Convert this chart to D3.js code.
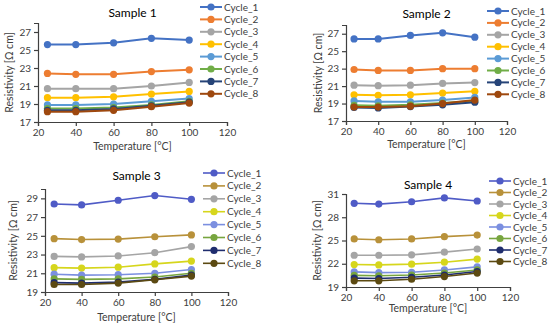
<!DOCTYPE html>
<html>
<head>
<meta charset="utf-8">
<script src="https://cdn.jsdelivr.net/npm/d3@7"></script>
<style>
  body { margin: 0; background: #fff; }
  svg text { font-family: Lato, "Open Sans", sans-serif; fill: #404040; }
</style>
</head>
<body>
<svg id="canvas" width="550" height="324"></svg>
<script>
'use strict';

// temperatures shared by all samples
const temperatures = [25, 40, 60, 80, 100];
const cycles = ['Cycle_1', 'Cycle_2', 'Cycle_3', 'Cycle_4', 'Cycle_5', 'Cycle_6', 'Cycle_7', 'Cycle_8'];
const xTicks = [20, 40, 60, 80, 100, 120];

// resistivity values, one row per cycle
const sample1 = [
  [25.6, 25.6, 25.8, 26.3, 26.1],
  [22.4, 22.3, 22.3, 22.6, 22.8],
  [20.7, 20.7, 20.7, 21.0, 21.4],
  [19.7, 19.7, 19.8, 20.1, 20.4],
  [18.9, 18.9, 19.0, 19.3, 19.6],
  [18.5, 18.5, 18.6, 18.9, 19.3],
  [18.3, 18.3, 18.45, 18.8, 19.2],
  [18.15, 18.15, 18.3, 18.7, 19.1]
];
const sample2 = [
  [26.4, 26.4, 26.8, 27.1, 26.6],
  [22.9, 22.8, 22.8, 23.0, 23.0],
  [21.1, 21.05, 21.1, 21.3, 21.4],
  [20.0, 19.95, 20.0, 20.2, 20.4],
  [19.3, 19.2, 19.2, 19.4, 19.7],
  [18.8, 18.75, 18.85, 19.05, 19.3],
  [18.55, 18.5, 18.65, 18.85, 19.15],
  [18.6, 18.6, 18.7, 19.0, 19.4]
];
const sample3 = [
  [28.4, 28.3, 28.8, 29.3, 28.9],
  [24.7, 24.6, 24.65, 24.9, 25.1],
  [22.8, 22.75, 22.85, 23.2, 23.85],
  [21.6, 21.55, 21.65, 22.0, 22.3],
  [20.9, 20.8, 20.85, 21.0, 21.4],
  [20.4, 20.35, 20.4, 20.6, 21.0],
  [20.0, 19.95, 20.05, 20.35, 20.8],
  [19.8, 19.8, 19.95, 20.3, 20.7]
];
const sample4 = [
  [29.8, 29.7, 30.0, 30.5, 30.1],
  [25.2, 25.1, 25.2, 25.5, 25.7],
  [23.1, 23.1, 23.15, 23.5, 23.9],
  [21.9, 21.85, 21.95, 22.2, 22.6],
  [20.95, 20.85, 20.9, 21.2, 21.6],
  [20.5, 20.45, 20.55, 20.8, 21.2],
  [20.15, 20.1, 20.25, 20.55, 21.0],
  [19.8, 19.8, 20.0, 20.35, 20.8]
];

const yTicks1 = [17, 19, 21, 23, 25, 27];
const yTicks3 = [19, 21, 23, 25, 27, 29];
const yTicks4 = [19, 22, 25, 28, 31];

const officeColors = ['#4472c4', '#ed7d31', '#a5a5a5', '#ffc000', '#5b9bd5', '#70ad47', '#264478', '#9e480e'];
const altColors = ['#4f5bc6', '#b8913a', '#a5a5a5', '#d6d61c', '#7b8fe0', '#77a53f', '#1f2d6e', '#5c4a12'];

/* panel layout */
const panels = [
  { title: 'Sample 1', data: sample1, colors: officeColors, yDomain: [17, 28], yTicks: yTicks1,
    x: [38, 227], y: [122, 23], titleY: 13, yTitleX: 9,  xTitleY: 146, legX: 200, legY: 7,   legDy: 12.4, lw: 2 },
  { title: 'Sample 2', data: sample2, colors: officeColors, yDomain: [17, 28], yTicks: yTicks1,
    x: [346, 507], y: [121, 25], titleY: 14, yTitleX: 318, xTitleY: 144, legX: 487, legY: 11, legDy: 11.9, lw: 2 },
  { title: 'Sample 3', data: sample3, colors: altColors, yDomain: [19, 30], yTicks: yTicks3,
    x: [45, 228], y: [292, 189], titleY: 176, yTitleX: 13, xTitleY: 317, legX: 203, legY: 173, legDy: 12.9, lw: 1.6 },
  { title: 'Sample 4', data: sample4, colors: altColors, yDomain: [19, 31], yTicks: yTicks4,
    x: [346, 510], y: [287, 194], titleY: 185, yTitleX: 317, xTitleY: 308, legX: 489, legY: 181, legDy: 11.5, lw: 1.6 }
];

const svg = d3.select('#canvas');

panels.forEach(p => {
  let X = d3.scaleLinear().domain([20, 120]).range(p.x);
  let Y = d3.scaleLinear().domain(p.yDomain).range(p.y);
  let g = svg.append('g');

  // axes
  let xAxis = d3.axisBottom(X).tickValues(xTicks).tickSize(4).tickPadding(3);
  let yAxis = d3.axisLeft(Y).tickValues(p.yTicks).tickSize(4).tickPadding(3);
  g.append('g')
    .attr('transform', 'translate(0,' + p.y[0] + ')')
    .call(xAxis)
    .call(a => a.selectAll('text').style('font-size', '10px'));
  g.append('g')
    .attr('transform', 'translate(' + p.x[0] + ',0)')
    .call(yAxis)
    .call(a => a.selectAll('text').style('font-size', '10px'));
  g.selectAll('.domain, .tick line').attr('stroke', '#404040').attr('stroke-width', 1.2);

  // titles
  let cx = (p.x[0] + p.x[1]) / 2;
  g.append('text').attr('x', cx).attr('y', p.titleY).attr('dy', '0.35em')
    .attr('text-anchor', 'middle').style('font-size', '12px').style('fill', '#000')
    .text(p.title);
  g.append('text').attr('x', cx).attr('y', p.xTitleY).attr('dy', '0.35em')
    .attr('text-anchor', 'middle').style('font-size', '10.5px')
    .text('Temperature [°C]');
  g.append('text')
    .attr('transform', 'translate(' + p.yTitleX + ',' + ((p.y[0] + p.y[1]) / 2) + ') rotate(-90)')
    .attr('dy', '0.35em').attr('text-anchor', 'middle').style('font-size', '10.5px')
    .text('Resistivity [Ω cm]');

  // series
  let line = d3.line().x((d, i) => X(temperatures[i])).y(d => Y(d));
  p.data.forEach((vals, k) => {
    let s = g.append('g');
    s.append('path').datum(vals).attr('d', line)
      .attr('fill', 'none').attr('stroke', p.colors[k]).attr('stroke-width', p.lw);
    s.selectAll('circle').data(vals).enter().append('circle')
      .attr('cx', (d, i) => X(temperatures[i]))
      .attr('cy', d => Y(d))
      .attr('r', 3.6)
      .attr('fill', p.colors[k]);
  });

  // legend
  let leg = g.append('g');
  cycles.forEach((c, k) => {
    let ly = p.legY + k * p.legDy;
    leg.append('line').attr('x1', p.legX).attr('x2', p.legX + 22).attr('y1', ly).attr('y2', ly)
      .attr('stroke', p.colors[k]).attr('stroke-width', p.lw);
    leg.append('circle').attr('cx', p.legX + 11).attr('cy', ly).attr('r', 3.6).attr('fill', p.colors[k]);
    leg.append('text').attr('x', p.legX + 24).attr('y', ly).attr('dy', '0.35em')
      .style('font-size', '10px').text(c);
  });
});
</script>
</body>
</html>
